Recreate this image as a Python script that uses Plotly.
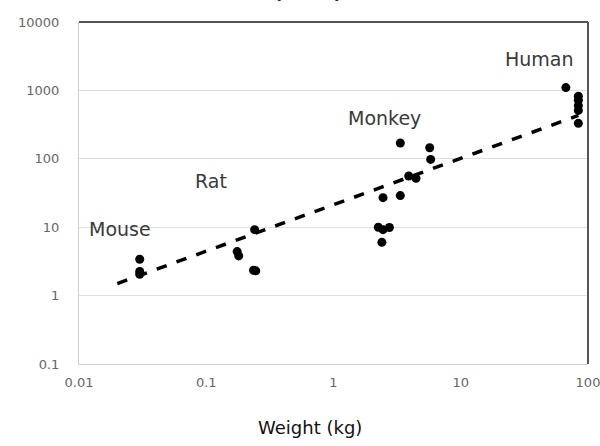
import math
import plotly.graph_objects as go

# ---- data ----
mouse_x = [0.03, 0.03, 0.03]
mouse_y = [3.4, 2.25, 2.05]
rat_x = [0.175, 0.18, 0.235, 0.245, 0.24]
rat_y = [4.4, 3.8, 2.35, 2.3, 9.2]
monkey_x = [3.35, 5.7, 5.8, 3.9, 4.45, 3.35, 2.45, 2.25, 2.45, 2.75, 2.4]
monkey_y = [170, 145, 98, 56, 52, 29, 27, 10, 9.2, 9.9, 6.0]
human_x = [67, 84, 84, 84, 84, 84]
human_y = [1100, 820, 720, 600, 510, 330]
trend_x = [0.02, 84]
trend_y = [1.5, 430]

group_labels = ["Mouse", "Rat", "Monkey", "Human"]
label_x = [0.0116, 0.079, 1.26, 21.6]
label_y = [9.4, 48, 400, 2850]

y_ticks = [0.1, 1, 10, 100, 1000, 10000]
y_ticktext = ["0.1", "1", "10", "100", "1000", "10000"]
x_ticks = [0.01, 0.1, 1, 10, 100]
x_ticktext = ["0.01", "0.1", "1", "10", "100"]

TFONT = "DejaVu Sans, sans-serif"
LFONT = "DejaVu Sans, sans-serif"

fig = go.Figure()

all_x = mouse_x + rat_x + monkey_x + human_x
all_y = mouse_y + rat_y + monkey_y + human_y

fig.add_trace(go.Scatter(
    x=trend_x, y=trend_y, mode="lines",
    line=dict(color="black", width=3.5, dash="dash"),
    hoverinfo="skip", showlegend=False))

fig.add_trace(go.Scatter(
    x=all_x, y=all_y, mode="markers",
    marker=dict(color="black", size=9),
    showlegend=False))

for t, lx, ly in zip(group_labels, label_x, label_y):
    fig.add_annotation(x=math.log10(lx), y=math.log10(ly), xref="x", yref="y",
                       text=t, showarrow=False, xanchor="left", yanchor="middle",
                       font=dict(family=LFONT, size=19, color="#3a3a3a"))

# x-axis title (sits left of centre in the reference)
fig.add_annotation(x=0.454, y=-0.187, xref="paper", yref="paper", text="Weight (kg)",
                   showarrow=False, xanchor="center", yanchor="middle",
                   font=dict(family=LFONT, size=18, color="#111"))

# partially visible title at the very top
fig.add_annotation(x=0.45, y=1.05, xref="paper", yref="paper", text="<b>(LD50)</b>",
                   showarrow=False, xanchor="center", yanchor="bottom",
                   font=dict(family=LFONT, size=18, color="#222"))

# dark top and right frame lines
fig.add_shape(type="line", xref="paper", yref="paper", x0=0, x1=1, y0=1, y1=1,
              line=dict(color="#555", width=2))
fig.add_shape(type="line", xref="paper", yref="paper", x0=1, x1=1, y0=0, y1=1,
              line=dict(color="#555", width=2))

fig.update_xaxes(
    type="log", range=[-2, 2], tickvals=x_ticks, ticktext=x_ticktext,
    showgrid=False, showline=True, linecolor="#d0d0d0", linewidth=1,
    ticks="", ticklabelstandoff=6, zeroline=False, ticklabeloverflow="allow",
    automargin=False,
    tickfont=dict(family=TFONT, size=13, color="#666"))
fig.update_yaxes(
    type="log", range=[-1, 4], tickvals=y_ticks, ticktext=y_ticktext,
    showgrid=True, gridcolor="#dedede", gridwidth=1,
    showline=True, linecolor="#d0d0d0", linewidth=1,
    ticks="", ticklabelstandoff=16, zeroline=False, automargin=False,
    tickfont=dict(family=TFONT, size=13, color="#666"))

fig.update_layout(
    width=600, height=446,
    margin=dict(l=79, r=12, t=22, b=82, autoexpand=False),
    paper_bgcolor="white", plot_bgcolor="white",
    showlegend=False)

fig.write_html("out.html", config={"displayModeBar": False},
               post_script="document.body.style.margin='0px';")
